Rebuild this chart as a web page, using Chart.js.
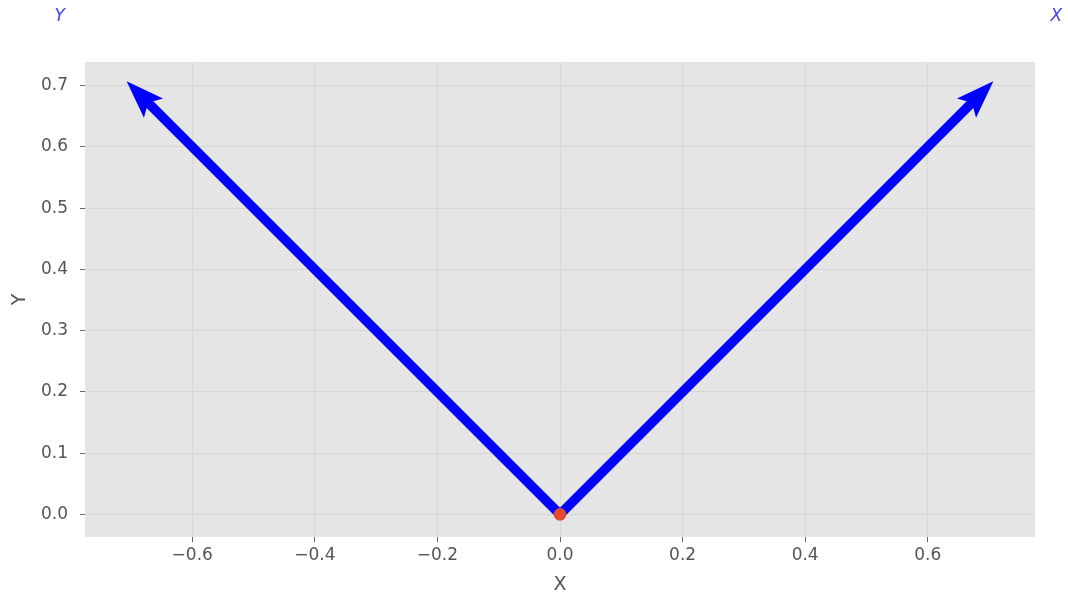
<!DOCTYPE html>
<html>
<head>
<meta charset="utf-8">
<script src="https://cdn.jsdelivr.net/npm/chart.js@4"></script>
<style>
  html, body { margin: 0; padding: 0; background: #fff; }
  #wrap { width: 1068px; height: 599px; }
</style>
</head>
<body>
<div id="wrap"><canvas id="vecChart" width="1068" height="599"></canvas></div>
<script>
// vectors (tails at origin)
const vecNames = ['X', 'Y'];
const vecDx = [0.7071, -0.7071];
const vecDy = [0.7071, 0.7071];
const originX = [0];
const originY = [0];
const labelFactor = 1.15;

const xMin = -0.775, xMax = 0.775;
const yMin = -0.037, yMax = 0.7386;

function fmt(v, minus) {
    if (Math.abs(v) < 1e-9) return '0.0';
    let s = v.toFixed(1);
    return minus ? s.replace('-', '\u2212') : s;
}

// background of the plot area
const bgPlugin = {
    id: 'bg',
    beforeDraw(chart) {
        const a = chart.chartArea, c = chart.ctx;
        c.save();
        c.fillStyle = '#e5e5e5';
        c.fillRect(a.left, a.top, a.right - a.left, a.bottom - a.top);
        c.restore();
    }
};

// arrows, drawn under the origin point
const arrowPlugin = {
    id: 'arrows',
    beforeDatasetsDraw(chart) {
        const xs = chart.scales.x, ys = chart.scales.y, c = chart.ctx;
        const w = 9.5, headLen = 38, headHalf = 13.5, notch = 33;
        c.save();
        c.fillStyle = '#0000ff';
        for (let i = 0; i < vecDx.length; i++) {
            const ox = xs.getPixelForValue(originX[0]), oy = ys.getPixelForValue(originY[0]);
            const tx = xs.getPixelForValue(originX[0] + vecDx[i]), ty = ys.getPixelForValue(originY[0] + vecDy[i]);
            const len = Math.hypot(ox - tx, oy - ty);
            const ux = (ox - tx) / len, uy = (oy - ty) / len; // tip -> tail
            const nx = -uy, ny = ux;
            c.beginPath();
            c.moveTo(tx, ty);
            c.lineTo(tx + ux * headLen + nx * headHalf, ty + uy * headLen + ny * headHalf);
            c.lineTo(tx + ux * notch + nx * w / 2, ty + uy * notch + ny * w / 2);
            c.lineTo(ox + nx * w / 2, oy + ny * w / 2);
            c.lineTo(ox - nx * w / 2, oy - ny * w / 2);
            c.lineTo(tx + ux * notch - nx * w / 2, ty + uy * notch - ny * w / 2);
            c.lineTo(tx + ux * headLen - nx * headHalf, ty + uy * headLen - ny * headHalf);
            c.closePath();
            c.fill();
        }
        c.restore();
    },
    afterDraw(chart) {
        const xs = chart.scales.x, ys = chart.scales.y, c = chart.ctx;
        c.save();
        c.fillStyle = '#4040ff';
        c.font = 'italic 17px "DejaVu Sans"';
        c.textAlign = 'center';
        c.textBaseline = 'middle';
        for (let i = 0; i < vecNames.length; i++) {
            c.fillText(vecNames[i],
                xs.getPixelForValue(vecDx[i] * labelFactor) - 2,
                ys.getPixelForValue(vecDy[i] * labelFactor));
        }
        c.restore();
    }
};

const ctx = document.getElementById('vecChart').getContext('2d');
const vecChart = new Chart(ctx, {
    type: 'scatter',
    data: {
        datasets: [{
            label: 'origin',
            data: originX.map((x, i) => ({ x: x, y: originY[i] })),
            backgroundColor: '#e24a33',
            borderWidth: 0,
            pointRadius: 6.3,
            pointHoverRadius: 6.3
        }]
    },
    options: {
        responsive: false,
        animation: false,
        events: [],
        layout: { padding: { left: 0, right: 33, top: 62, bottom: 0 } },
        plugins: { legend: { display: false }, tooltip: { enabled: false } },
        scales: {
            x: {
                type: 'linear',
                min: xMin,
                max: xMax,
                afterFit(scale) { scale.height = 62; },
                border: { display: false },
                grid: { color: '#d7d7d7', lineWidth: 1, tickLength: 5, tickColor: '#666' },
                ticks: {
                    stepSize: 0.2,
                    includeBounds: false,
                    padding: 3,
                    color: '#555',
                    font: { family: 'DejaVu Sans', size: 17 },
                    callback: v => fmt(v, true)
                },
                title: {
                    display: true, text: 'X', color: '#555',
                    font: { family: 'DejaVu Sans', size: 19 },
                    padding: { top: 0, bottom: 3 }
                }
            },
            y: {
                type: 'linear',
                min: yMin,
                max: yMax,
                afterFit(scale) { scale.width = 85; },
                border: { display: false },
                grid: { color: '#d7d7d7', lineWidth: 1, tickLength: 5, tickColor: '#666' },
                ticks: {
                    stepSize: 0.1,
                    includeBounds: false,
                    padding: 12,
                    color: '#555',
                    font: { family: 'DejaVu Sans', size: 17 },
                    callback: v => fmt(v, false)
                },
                title: {
                    display: true, text: 'Y', color: '#555',
                    font: { family: 'DejaVu Sans', size: 19 },
                    padding: { top: 9, bottom: 0 }
                }
            }
        }
    },
    plugins: [bgPlugin, arrowPlugin]
});
</script>
</body>
</html>
